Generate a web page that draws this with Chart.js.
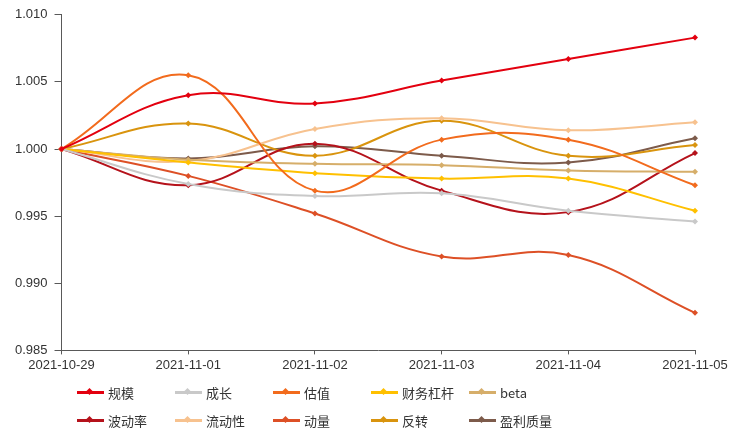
<!DOCTYPE html>
<html>
<head>
<meta charset="utf-8">
<script src="https://cdn.jsdelivr.net/npm/chart.js@4"></script>
<style>
  html, body { margin:0; padding:0; background:#fff; }
  #wrap { position:relative; width:732px; height:435px; }
  #c { position:absolute; left:0; top:0; }
  #legend { position:absolute; left:77px; top:381px; display:grid;
    grid-template-columns: repeat(5, 98px); grid-auto-rows: 28px;
    font-family: "Noto Sans CJK SC", "Liberation Sans", sans-serif; font-size:13px; color:#333; }
  .item { display:flex; align-items:center; height:22px; }
  .sw { position:relative; width:27px; height:3px; margin-right:4px; }
  .sw i { position:absolute; left:10px; top:-2px; width:5px; height:5px; transform:rotate(45deg); }
</style>
</head>
<body>
<div id="wrap">
  <canvas id="c" width="732" height="435"></canvas>
  <div id="legend"></div>
</div>
<script>
const categories = ['2021-10-29','2021-11-01','2021-11-02','2021-11-03','2021-11-04','2021-11-05'];
const seriesNames = ['规模','成长','估值','财务杠杆','beta','波动率','流动性','动量','反转','盈利质量'];
const guimo    = [1, 1.0040, 1.0034, 1.0051, 1.0067, 1.0083];
const chengzhang = [1, 0.9974, 0.9965, 0.9967, 0.9954, 0.9946];
const guzhi    = [1, 1.0055, 0.9969, 1.0007, 1.0007, 0.9973];
const caiwu    = [1, 0.9990, 0.9982, 0.9978, 0.9978, 0.9954];
const beta     = [1, 0.9992, 0.9989, 0.9988, 0.9984, 0.9983];
const bodong   = [1, 0.9973, 1.0004, 0.9969, 0.9953, 0.9997];
const liudong  = [1, 0.9991, 1.0015, 1.0023, 1.0014, 1.0020];
const dongliang = [1, 0.9980, 0.9952, 0.9920, 0.9921, 0.9878];
const fanzhuan = [1, 1.0019, 0.9995, 1.0021, 0.9995, 1.0003];
const yingli   = [1, 0.9993, 1.0002, 0.9995, 0.9990, 1.0008];
const yTicks = [0.985, 0.990, 0.995, 1.000, 1.005, 1.010];

const seriesValues = [guimo, chengzhang, guzhi, caiwu, beta, bodong, liudong, dongliang, fanzhuan, yingli];
const colors = ['#e3000f','#c9c9c9','#f26b1d','#ffc000','#d6ae6a','#b5121b','#f7c28f','#dd5026','#d9940e','#7d5b4b'];

const datasets = seriesNames.map((n, i) => ({
  label: n,
  data: seriesValues[i],
  borderColor: colors[i],
  backgroundColor: colors[i],
  borderWidth: 2,
  pointStyle: 'rectRot',
  pointRadius: 3,
  pointBorderWidth: 0,
  tension: 0.4,
  fill: false
}));

new Chart(document.getElementById('c'), {
  type: 'line',
  data: { labels: categories, datasets },
  options: {
    responsive: false,
    animation: false,
    devicePixelRatio: 1,
    layout: { padding: { top: -3, right: 37, bottom: 59, left: 8 } },
    plugins: { legend: { display: false }, tooltip: { enabled: false } },
    scales: {
      x: {
        type: 'category',
        offset: false,
        grid: { display: true, drawOnChartArea: false, drawTicks: true, tickLength: 4, color: '#595959' },
        border: { display: true, color: '#595959', width: 1 },
        ticks: { color: '#333', font: { family: 'Liberation Sans', size: 13 }, padding: 3, maxRotation: 0, autoSkip: false }
      },
      y: {
        min: 0.985, max: 1.010,
        afterBuildTicks: (axis) => { axis.ticks = yTicks.map(v => ({ value: v })); },
        grid: { display: true, drawOnChartArea: false, drawTicks: true, tickLength: 7, color: '#595959' },
        border: { display: true, color: '#595959', width: 1 },
        ticks: { color: '#333', font: { family: 'Liberation Sans', size: 13 }, padding: 7,
          callback: (v) => Number(v).toFixed(3) }
      }
    }
  }
});

const lg = document.getElementById('legend');
seriesNames.forEach((n, i) => {
  const d = document.createElement('div');
  d.className = 'item';
  d.innerHTML = '<span class="sw" style="background:' + colors[i] + '"><i style="background:' + colors[i] + '"></i></span><span></span>';
  d.lastChild.textContent = n;
  lg.appendChild(d);
});
</script>
</body>
</html>
